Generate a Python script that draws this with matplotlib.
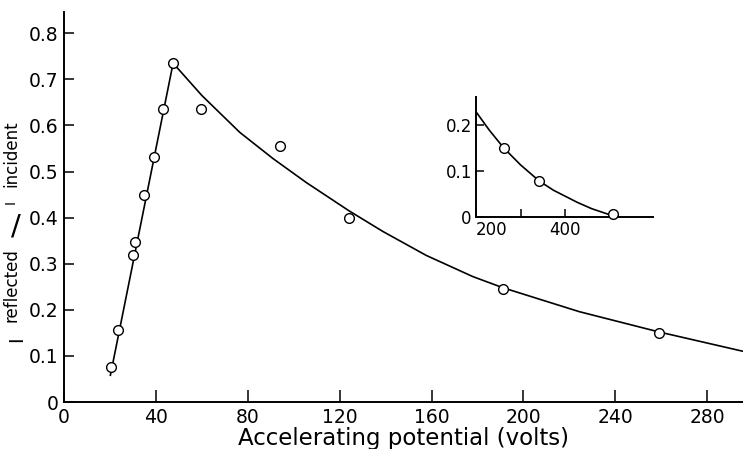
import matplotlib
matplotlib.use('Agg')
import matplotlib.pyplot as plt

# measured points (main plot)
volts = [20.4, 23.6, 30.1, 31.0, 34.9, 39.3, 43.2, 47.5, 59.6, 94.2, 124, 191, 259]
ratio = [0.077, 0.156, 0.319, 0.346, 0.449, 0.532, 0.635, 0.735, 0.635, 0.555, 0.40, 0.245, 0.15]

# hand-drawn curves
rise_v = [20.2, 47.5]
rise_r = [0.058, 0.735]
fall_v = [47.5, 60, 76.5, 91, 105.5, 124, 138.8, 157.7, 178, 191, 224.3, 259, 295.6]
fall_r = [0.735, 0.665, 0.585, 0.528, 0.476, 0.415, 0.370, 0.318, 0.272, 0.248, 0.196, 0.152, 0.11]

# inset (high voltage)
ins_v = [262, 342, 507]
ins_r = [0.150, 0.078, 0.006]
ins_curve_v = [200, 230, 262, 300, 342, 374, 427, 460, 500]
ins_curve_r = [0.228, 0.188, 0.150, 0.113, 0.078, 0.058, 0.032, 0.018, 0.005]

x_ticks = [0, 40, 80, 120, 160, 200, 240, 280]
y_ticks = [0, 0.1, 0.2, 0.3, 0.4, 0.5, 0.6, 0.7, 0.8]
y_labels = ['0', '0.1', '0.2', '0.3', '0.4', '0.5', '0.6', '0.7', '0.8']

plt.rcParams['font.family'] = 'DejaVu Sans'

W, H = 743, 449
fig = plt.figure(figsize=(W / 100, H / 100), dpi=100)
ax = fig.add_axes([64 / W, 47 / H, 679 / W, 390 / H])

ax.plot(rise_v, rise_r, color='black', lw=1.2)
ax.plot(fall_v, fall_r, color='black', lw=1.2)
ax.plot(volts, ratio, 'o', mfc='white', mec='black', mew=1.0, ms=7, zorder=3)

ax.set_xlim(0, 295.6)
ax.set_ylim(0, 0.846)
ax.set_xticks(x_ticks)
ax.set_yticks(y_ticks)
ax.set_yticklabels(y_labels)
for s in ['top', 'right']:
    ax.spines[s].set_visible(False)
for s in ['left', 'bottom']:
    ax.spines[s].set_linewidth(1.4)
ax.tick_params(direction='in', width=1.1, labelsize=13.5, pad=4)
ax.tick_params(axis='x', length=9)
ax.tick_params(axis='y', length=7)
ax.set_xlabel('Accelerating potential (volts)', fontsize=16.5, labelpad=0)


# y label assembled piece by piece: I^reflected / ^I incident
def ytxt(s, x, y, size, rot=90):
    fig.text(x / W, 1 - y / H, s, rotation=rot, va='center', ha='center', fontsize=size)


ytxt('I', 17, 339, 14)
ytxt('reflected', 11, 285, 12)
ytxt('/', 16, 226, 21, rot=0)
ytxt('I', 11, 202, 10)
ytxt('incident', 11, 154, 12)

# inset
axi = fig.add_axes([476 / W, 232 / H, 177 / W, 120 / H])
axi.plot(ins_curve_v, ins_curve_r, color='black', lw=1.2)
axi.plot(ins_v, ins_r, 'o', mfc='white', mec='black', mew=1.0, ms=7, zorder=3, clip_on=False)
axi.set_xlim(200, 597.7)
axi.set_ylim(0, 0.26)
axi.set_xticks([200, 300, 400])
axi.set_xticklabels(['200', '', '400'])
axi.get_xticklabels()[0].set_ha('left')
axi.set_yticks([0, 0.1, 0.2])
axi.set_yticklabels(['0', '0.1', '0.2'])
for s in ['top', 'right']:
    axi.spines[s].set_visible(False)
for s in ['left', 'bottom']:
    axi.spines[s].set_linewidth(1.4)
axi.tick_params(direction='in', length=6, width=1.1, labelsize=12, pad=3)
axi.patch.set_alpha(0)

fig.savefig('out.png', dpi=100)
